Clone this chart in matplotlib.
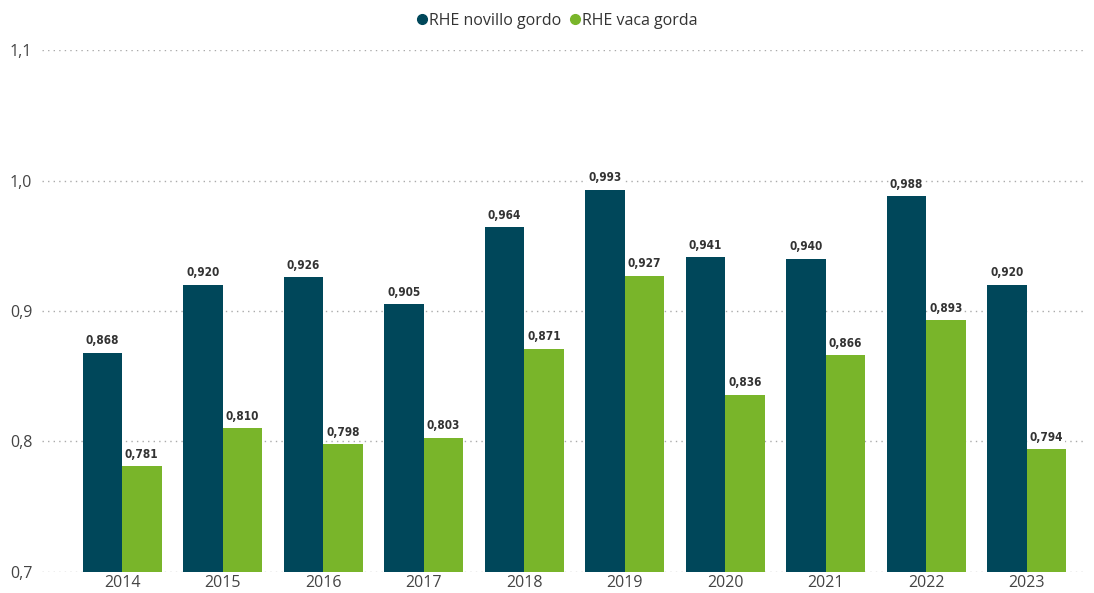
import matplotlib
matplotlib.use("Agg")
import matplotlib.pyplot as plt
from matplotlib.lines import Line2D
import numpy as np

years = ["2014", "2015", "2016", "2017", "2018", "2019", "2020", "2021", "2022", "2023"]
novillo = [0.868, 0.920, 0.926, 0.905, 0.964, 0.993, 0.941, 0.940, 0.988, 0.920]
vaca = [0.781, 0.810, 0.798, 0.803, 0.871, 0.927, 0.836, 0.866, 0.893, 0.794]
series_names = ["RHE novillo gordo", "RHE vaca gorda"]
yticks = [0.7, 0.8, 0.9, 1.0, 1.1]

c_nov = "#00475a"
c_vac = "#79b52a"

fig = plt.figure(figsize=(10.94, 5.93), dpi=100)
ax = fig.add_axes([42 / 1094, 1 - 572 / 593, (1085 - 42) / 1094, (572 - 50) / 593])

x = np.arange(len(years))
w = 0.393
b1 = ax.bar(x - w / 2, novillo, w, color=c_nov, zorder=3)
b2 = ax.bar(x + w / 2, vaca, w, color=c_vac, zorder=3)

def fmt(v):
    return f"{v:.3f}".replace(".", ",")

for bars, vals in ((b1, novillo), (b2, vaca)):
    for r, v in zip(bars, vals):
        ax.annotate(fmt(v), (r.get_x() + r.get_width() / 2, v), xytext=(0, 4),
                    textcoords="offset points", ha="center", va="bottom",
                    fontsize=8.5, fontweight="bold", fontstretch="condensed",
                    family="DejaVu Sans", color="#333333", zorder=4,
                    bbox=dict(boxstyle="square,pad=0.1", fc="white", ec="none"))

ax.set_ylim(0.7, 1.1)
ax.set_xlim(-0.796, 9.577)
ax.set_yticks(yticks)
ax.set_yticklabels([f"{t:.1f}".replace(".", ",") for t in yticks])
ax.set_xticks(x)
ax.set_xticklabels(years)
ax.tick_params(axis="both", length=0, labelsize=11.5, colors="#444444")
ax.tick_params(axis="y", pad=7)
ax.tick_params(axis="x", pad=2)
for lbl in ax.get_xticklabels() + ax.get_yticklabels():
    lbl.set_family("Open Sans")
ax.yaxis.grid(True, linestyle=(0, (1, 3)), color="#aaaaaa", linewidth=1, zorder=0)
for s in ax.spines.values():
    s.set_visible(False)

# legend with circular markers, centred above the plot
handles = [Line2D([], [], marker="o", linestyle="", color=c, markersize=7) for c in (c_nov, c_vac)]
fig.legend(handles=handles, labels=series_names, loc="center", bbox_to_anchor=(558 / 1094, 1 - 21 / 593),
           ncol=2, frameon=False, handlelength=0.5, handletextpad=0.2, columnspacing=0.6,
           prop={"family": "Open Sans", "size": 11.5}, labelcolor="#333333")

fig.savefig("out.png", dpi=100)
